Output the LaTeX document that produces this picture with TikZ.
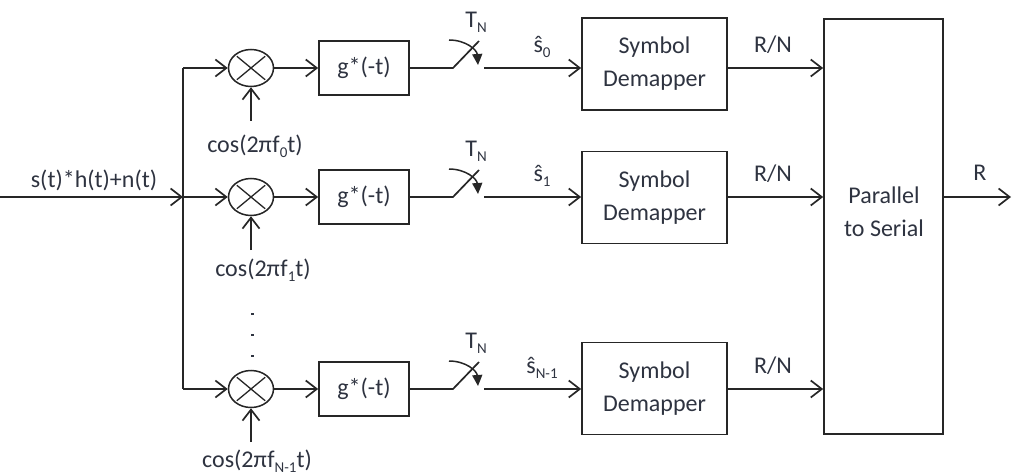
\documentclass[tikz,border=0pt]{standalone}
\usepackage{fontspec}
\setmainfont{Carlito}
\usetikzlibrary{arrows.meta,shapes.geometric}
\definecolor{ink}{HTML}{262626}
\definecolor{txt}{HTML}{2E3340}
% lowered, smaller index text (subscripts)
\newcommand{\lowidx}[1]{\raisebox{-0.22em}{\fontsize{15}{15}\selectfont #1}}
\begin{document}
\begin{tikzpicture}[x=1pt,y=-1pt,
  every node/.style={font=\fontsize{24}{33}\selectfont, text=txt, inner sep=0pt},
  wire/.style={draw=ink, line width=1.7pt},
  flow/.style={wire, -{Straight Barb[length=11pt,width=17pt]}},
  blk/.style={draw=ink, line width=1.7pt, rectangle, align=center},
  gbox/.style={blk, minimum width=90pt, minimum height=54pt},
  dbox/.style={blk, minimum width=145pt, minimum height=92pt},
  mixer/.style={draw=ink, line width=1.5pt, ellipse, minimum width=45pt, minimum height=37pt},
  xmark/.style={draw=ink, line width=1.3pt, shorten <=3pt, shorten >=3pt},
  sweep/.style={draw=ink, line width=1.5pt, -{Triangle[length=11pt,width=10pt]}}
]
\useasboundingbox (0,0) rectangle (1012,476);

% input and splitting trunk
\coordinate (in) at (0,197);
\coordinate (split) at (183,197);
\coordinate (ttop) at (183,68);
\coordinate (tbot) at (183,389);
\draw[flow] (in) -- (split);
\draw[wire] (ttop) -- (tbot);
\node (inlbl) at (94,180) {s(t)*h(t)+n(t)};

% parallel-to-serial converter
\node[blk, minimum width=119pt, minimum height=415pt] (ps) at (883.5,226.5) {};
\node[align=center] (pstxt) at (884,212) {Parallel\\to Serial};
\coordinate (out) at (1011,197);
\draw[flow] (ps.east |- out) -- (out);
\node (rlbl) at (980,173) {R};

% one branch per subcarrier
\foreach \i/\y/\cx/\k/\dy/\ly in {0/68/255/0/64/146, 1/197/263/1/197.5/270, 2/389/257/N-1/388.5/461}{
  \node[mixer] (m\i) at (251,\y) {};
  \draw[xmark] (m\i.north west) -- (m\i.south east);
  \draw[xmark] (m\i.north east) -- (m\i.south west);
  \coordinate (br\i) at (183,\y);
  \draw[flow] (br\i) -- (m\i);
  \coordinate (cs\i) at (251,\y+53);
  \draw[flow] (cs\i) -- (m\i);
  \node (cl\i) at (\cx,\ly) {cos(2π\kern0.5pt f\lowidx{\k}t)};
  \node[gbox] (g\i) at (364,\y) {g*(-t)};
  \draw[flow] (m\i) -- (g\i);
  % sampling switch
  \coordinate (sa\i) at (453,\y);
  \coordinate (sb\i) at (479,\y-27);
  \coordinate (sc\i) at (484,\y);
  \draw[wire] (g\i) -- (sa\i) -- (sb\i);
  \coordinate (aa\i) at (449,\y-28);
  \coordinate (ab\i) at (478,\y-3);
  \draw[sweep] (aa\i) .. controls (466,\y-28) and (477,\y-18) .. (ab\i);
  \node (tn\i) at (476,\y-46) {T\lowidx{N}};
  \node[dbox] (d\i) at (654.5,\dy) {Symbol\\Demapper};
  \draw[flow] (sc\i) -- (d\i.west |- sc\i);
  \node (sh\i) at (542,\y-21) {ŝ\lowidx{\k}};
  \draw[flow] (d\i.east |- sc\i) -- (ps.west |- sc\i);
  \node (rn\i) at (773,\y-23) {R/N};
}

% ellipsis between the second and last branch
\foreach \j/\yy in {a/313, b/334, c/355}{
  \fill[txt] (250.5,\yy) rectangle (253.5,\yy+1.5);
}
\end{tikzpicture}
\end{document}
